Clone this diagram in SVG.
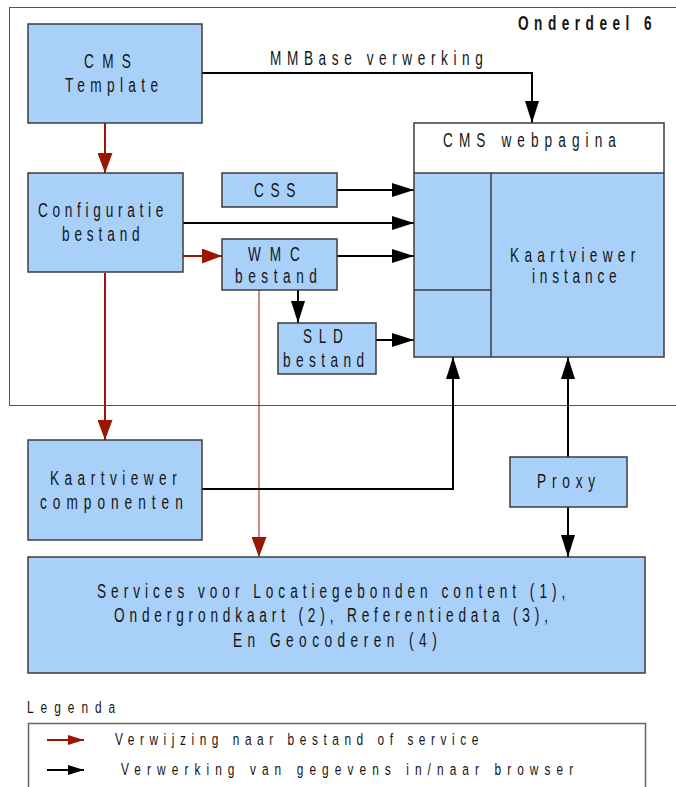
<svg xmlns="http://www.w3.org/2000/svg" width="676" height="787" viewBox="0 0 676 787">
<style>
.box{fill:#a8d0f8;stroke:#3c3c3c;stroke-width:1.5}
.t{font-family:"Liberation Sans",Arial,sans-serif;font-size:19.5px;fill:#151515}
.lg{font-size:17px}
.blk{fill:none;stroke:#000;stroke-width:2}
.red{fill:none;stroke:#991600;stroke-width:2}
.thin{stroke-width:1}
</style>
<defs>
<marker id="ab" markerUnits="userSpaceOnUse" markerWidth="22" markerHeight="14" refX="22" refY="7" orient="auto"><path d="M0,0 L22,7 L0,14 z" fill="#000"/></marker>
<marker id="ar" markerUnits="userSpaceOnUse" markerWidth="20" markerHeight="15" refX="20" refY="7.5" orient="auto"><path d="M0,0 L20,7.5 L0,15 z" fill="#991600"/></marker>
<marker id="sb" markerUnits="userSpaceOnUse" markerWidth="16" markerHeight="10" refX="16" refY="5" orient="auto"><path d="M0,0 L16,5 L0,10 z" fill="#000"/></marker>
<marker id="sr" markerUnits="userSpaceOnUse" markerWidth="16" markerHeight="10" refX="16" refY="5" orient="auto"><path d="M0,0 L16,5 L0,10 z" fill="#991600"/></marker>
</defs>
<rect width="676" height="787" fill="#fff"/>
<g id="frame">
<rect x="9.5" y="7.5" width="700" height="398" fill="none" stroke="#555" stroke-width="1"/>
<text class="t" font-weight="bold" font-size="18" transform="translate(518,30) scale(0.7,1)" textLength="191">Onderdeel 6</text>
</g>
<g id="connectors">
<path class="blk" stroke-width="1.3" d="M202,73 H532 V123" marker-end="url(#ab)"/>
<text class="t" transform="translate(270,65) scale(0.7,1)" textLength="304">MMBase verwerking</text>
<path class="red" d="M105,123 V173" marker-end="url(#ar)"/>
<path class="red" d="M105,273 V440" marker-end="url(#ar)"/>
<path class="red" d="M183,256 H222" marker-end="url(#ar)"/>
<path class="blk" d="M183,223 H414" marker-end="url(#ab)"/>
<path class="blk" d="M337,190 H414" marker-end="url(#ab)"/>
<path class="blk" d="M337,256 H414" marker-end="url(#ab)"/>
<path class="blk" d="M298,290 V323" marker-end="url(#ab)"/>
<path class="blk" d="M376,340 H414" marker-end="url(#ab)"/>
<path class="red thin" d="M259,290 V557" marker-end="url(#ar)"/>
<path class="blk" d="M202,489 H453 V357" marker-end="url(#ab)"/>
<path class="blk" d="M568,457 V357" marker-end="url(#ab)"/>
<path class="blk" d="M568,507 V557" marker-end="url(#ab)"/>
</g>
<g id="cms-template">
<rect class="box" x="28" y="24" width="174" height="99"/>
<text class="t" transform="translate(84,68) scale(0.7,1)" textLength="67">CMS</text>
<text class="t" transform="translate(65,92) scale(0.7,1)" textLength="133">Template</text>
</g>
<g id="configuratie">
<rect class="box" x="28" y="173" width="155" height="99"/>
<text class="t" transform="translate(38,217) scale(0.7,1)" textLength="179">Configuratie</text>
<text class="t" transform="translate(62,241) scale(0.7,1)" textLength="111">bestand</text>
</g>
<g id="css">
<rect class="box" x="222" y="173" width="115" height="34"/>
<text class="t" transform="translate(254,197) scale(0.7,1)" textLength="59">CSS</text>
</g>
<g id="wmc">
<rect class="box" x="222" y="239" width="115" height="51"/>
<text class="t" transform="translate(248,261) scale(0.7,1)" textLength="74">WMC</text>
<text class="t" transform="translate(235,283) scale(0.7,1)" textLength="117">bestand</text>
</g>
<g id="sld">
<rect class="box" x="278" y="323" width="98" height="51"/>
<text class="t" transform="translate(303,343) scale(0.7,1)" textLength="57">SLD</text>
<text class="t" transform="translate(283,367) scale(0.7,1)" textLength="116">bestand</text>
</g>
<g id="cms-webpagina">
<rect x="414" y="173" width="250" height="184" fill="#a8d0f8"/>
<rect x="414" y="123" width="250" height="50" fill="#fff"/>
<rect x="414" y="123" width="250" height="234" fill="none" stroke="#3c3c3c" stroke-width="1.5"/>
<path d="M414,173 H664 M491,173 V357 M414,290 H491" fill="none" stroke="#3c3c3c" stroke-width="1.5"/>
<text class="t" transform="translate(443,147) scale(0.7,1)" textLength="247">CMS webpagina</text>
<text class="t" transform="translate(510,262) scale(0.7,1)" textLength="179">Kaartviewer</text>
<text class="t" transform="translate(532,283) scale(0.7,1)" textLength="121">instance</text>
</g>
<g id="kaartviewer-componenten">
<rect class="box" x="28" y="440" width="174" height="100"/>
<text class="t" transform="translate(50,485) scale(0.7,1)" textLength="181">Kaartviewer</text>
<text class="t" transform="translate(40,509) scale(0.7,1)" textLength="204">componenten</text>
</g>
<g id="proxy">
<rect class="box" x="510" y="457" width="117" height="50"/>
<text class="t" transform="translate(537,488) scale(0.7,1)" textLength="83">Proxy</text>
</g>
<g id="services">
<rect class="box" x="28" y="557" width="617" height="116"/>
<text class="t" transform="translate(97,598) scale(0.7,1)" textLength="669">Services voor Locatiegebonden content (1),</text>
<text class="t" transform="translate(114,622) scale(0.7,1)" textLength="620">Ondergrondkaart (2), Referentiedata (3),</text>
<text class="t" transform="translate(233,647) scale(0.7,1)" textLength="291">En Geocoderen (4)</text>
</g>
<g id="legenda">
<text class="t lg" transform="translate(27,713) scale(0.7,1)" textLength="126">Legenda</text>
<rect x="28.5" y="723.5" width="617" height="100" fill="none" stroke="#666" stroke-width="1.5"/>
<path class="red" d="M47,740 H84" marker-end="url(#sr)"/>
<text class="t lg" transform="translate(115,745) scale(0.7,1)" textLength="519">Verwijzing naar bestand of service</text>
<path class="blk" d="M47,770 H84" marker-end="url(#sb)"/>
<text class="t lg" transform="translate(121,775) scale(0.7,1)" textLength="646">Verwerking van gegevens in/naar browser</text>
</g>
</svg>
